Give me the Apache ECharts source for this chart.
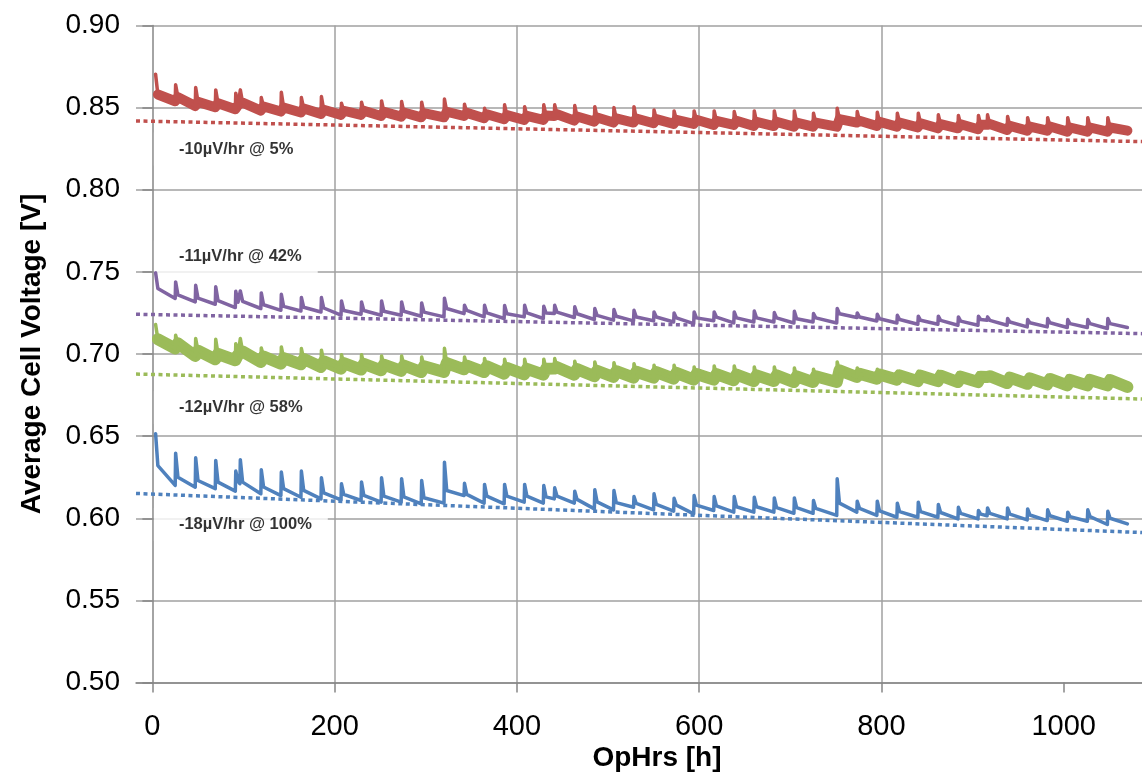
<!DOCTYPE html>
<html>
<head>
<meta charset="utf-8">
<title>Average Cell Voltage</title>
<script src="https://cdn.jsdelivr.net/npm/echarts@6/dist/echarts.min.js"></script>
<style>
  html, body { margin: 0; padding: 0; background: #fff; }
  #chart { width: 1142px; height: 775px; }
</style>
</head>
<body>
<div id="chart"></div>
<script>
// operating hours at which each voltage spike (recovery) starts
const spikeHrs = [3, 25, 47, 69, 91, 96, 119, 141, 163, 185, 207, 229, 251, 273, 295, 320, 342, 364, 386, 408,
  429, 441, 463, 485, 506, 528, 550, 572, 594, 616, 638, 660, 682, 704, 725, 751, 773, 795, 817, 840,
  862, 884, 906, 916, 938, 960, 982, 1004, 1026, 1048];
const endHr = 1070;

// 5% load (red): spike top, value just after spike, value just before next spike
const redPeak = [0.8703, 0.8639, 0.8622, 0.8608, 0.8588, 0.8608, 0.8561, 0.8594, 0.8561, 0.8567,
  0.8527, 0.8533, 0.8541, 0.8537, 0.8533, 0.8552, 0.8521, 0.8496, 0.8517, 0.8506,
  0.8517, 0.8517, 0.8513, 0.8506, 0.8500, 0.8506, 0.8486, 0.8480, 0.8480, 0.8480,
  0.8476, 0.8480, 0.8480, 0.8480, 0.8466, 0.8496, 0.8476, 0.8472, 0.8466, 0.8466,
  0.8456, 0.8452, 0.8452, 0.8456, 0.8446, 0.8439, 0.8439, 0.8439, 0.8439, 0.8439];
const redKnee = [0.8580, 0.8564, 0.8535, 0.8527, 0.8515, 0.8530, 0.8507, 0.8501, 0.8495, 0.8487,
  0.8481, 0.8481, 0.8474, 0.8470, 0.8466, 0.8475, 0.8468, 0.8460, 0.8454, 0.8450,
  0.8452, 0.8460, 0.8446, 0.8440, 0.8434, 0.8434, 0.8430, 0.8426, 0.8426, 0.8420,
  0.8420, 0.8413, 0.8413, 0.8409, 0.8409, 0.8430, 0.8420, 0.8413, 0.8409, 0.8405,
  0.8399, 0.8399, 0.8395, 0.8400, 0.8389, 0.8385, 0.8385, 0.8379, 0.8379, 0.8379];
const redLow = [0.8539, 0.8510, 0.8502, 0.8490, 0.8516, 0.8482, 0.8476, 0.8470, 0.8462, 0.8456,
  0.8456, 0.8449, 0.8445, 0.8441, 0.8441, 0.8449, 0.8435, 0.8429, 0.8425, 0.8425,
  0.8449, 0.8421, 0.8415, 0.8409, 0.8409, 0.8405, 0.8401, 0.8401, 0.8395, 0.8395,
  0.8388, 0.8388, 0.8384, 0.8384, 0.8384, 0.8409, 0.8388, 0.8384, 0.8380, 0.8374,
  0.8374, 0.8368, 0.8395, 0.8364, 0.8360, 0.8360, 0.8354, 0.8354, 0.8354, 0.8360];

// 42% load (purple)
const purplePeak = [0.7494, 0.7439, 0.7419, 0.7409, 0.7382, 0.7384, 0.7372, 0.7364, 0.7344, 0.7344,
  0.7323, 0.7317, 0.7323, 0.7317, 0.7311, 0.7340, 0.7297, 0.7297, 0.7295, 0.7297,
  0.7291, 0.7297, 0.7287, 0.7277, 0.7271, 0.7266, 0.7256, 0.7250, 0.7256, 0.7256,
  0.7256, 0.7262, 0.7252, 0.7260, 0.7246, 0.7277, 0.7250, 0.7242, 0.7236, 0.7230,
  0.7230, 0.7226, 0.7230, 0.7226, 0.7216, 0.7210, 0.7216, 0.7210, 0.7210, 0.7216];
const purpleKnee = [0.7399, 0.7360, 0.7340, 0.7325, 0.7315, 0.7320, 0.7300, 0.7290, 0.7285, 0.7280,
  0.7265, 0.7265, 0.7260, 0.7260, 0.7255, 0.7277, 0.7265, 0.7250, 0.7245, 0.7250,
  0.7250, 0.7255, 0.7245, 0.7235, 0.7230, 0.7225, 0.7225, 0.7220, 0.7220, 0.7225,
  0.7220, 0.7220, 0.7220, 0.7215, 0.7220, 0.7245, 0.7225, 0.7215, 0.7210, 0.7205,
  0.7205, 0.7200, 0.7210, 0.7205, 0.7195, 0.7190, 0.7190, 0.7185, 0.7185, 0.7185];
const purpleLow = [0.7338, 0.7317, 0.7303, 0.7283, 0.7307, 0.7277, 0.7266, 0.7262, 0.7256, 0.7236,
  0.7242, 0.7236, 0.7236, 0.7230, 0.7226, 0.7246, 0.7226, 0.7216, 0.7226, 0.7216,
  0.7246, 0.7222, 0.7210, 0.7206, 0.7202, 0.7202, 0.7195, 0.7185, 0.7202, 0.7189,
  0.7195, 0.7195, 0.7189, 0.7195, 0.7189, 0.7222, 0.7201, 0.7189, 0.7181, 0.7181,
  0.7175, 0.7175, 0.7206, 0.7175, 0.7165, 0.7165, 0.7161, 0.7161, 0.7155, 0.7161];

// 58% load (green)
const greenPeak = [0.7179, 0.7114, 0.7094, 0.7090, 0.7063, 0.7094, 0.7037, 0.7043, 0.7033, 0.7023,
  0.6996, 0.6996, 0.6988, 0.6988, 0.6982, 0.7035, 0.6982, 0.6972, 0.6968, 0.6968,
  0.6968, 0.6972, 0.6956, 0.6952, 0.6947, 0.6941, 0.6931, 0.6931, 0.6921, 0.6927,
  0.6927, 0.6921, 0.6921, 0.6915, 0.6907, 0.6952, 0.6915, 0.6907, 0.6895, 0.6895,
  0.6895, 0.6886, 0.6886, 0.6880, 0.6874, 0.6870, 0.6870, 0.6866, 0.6866, 0.6866];
const greenKnee = [0.7090, 0.7065, 0.7020, 0.7000, 0.6995, 0.7015, 0.6985, 0.6975, 0.6970, 0.6955,
  0.6945, 0.6940, 0.6935, 0.6930, 0.6925, 0.6945, 0.6930, 0.6925, 0.6915, 0.6910,
  0.6910, 0.6920, 0.6908, 0.6898, 0.6895, 0.6892, 0.6890, 0.6885, 0.6878, 0.6878,
  0.6875, 0.6870, 0.6870, 0.6864, 0.6864, 0.6900, 0.6880, 0.6875, 0.6870, 0.6868,
  0.6868, 0.6862, 0.6862, 0.6865, 0.6856, 0.6852, 0.6848, 0.6842, 0.6842, 0.6842];
const greenLow = [0.7033, 0.6988, 0.6968, 0.6962, 0.7002, 0.6951, 0.6941, 0.6937, 0.6921, 0.6911,
  0.6905, 0.6901, 0.6897, 0.6890, 0.6890, 0.6907, 0.6890, 0.6880, 0.6876, 0.6874,
  0.6911, 0.6874, 0.6864, 0.6860, 0.6856, 0.6856, 0.6850, 0.6844, 0.6844, 0.6840,
  0.6835, 0.6835, 0.6829, 0.6829, 0.6829, 0.6860, 0.6850, 0.6844, 0.6835, 0.6835,
  0.6829, 0.6829, 0.6860, 0.6823, 0.6819, 0.6815, 0.6809, 0.6809, 0.6809, 0.6799];

// 100% load (blue)
const bluePeak = [0.6515, 0.6396, 0.6368, 0.6352, 0.6287, 0.6356, 0.6295, 0.6281, 0.6287, 0.6246,
  0.6210, 0.6220, 0.6246, 0.6240, 0.6230, 0.6341, 0.6213, 0.6206, 0.6206, 0.6206,
  0.6199, 0.6185, 0.6165, 0.6173, 0.6169, 0.6132, 0.6149, 0.6122, 0.6138, 0.6132,
  0.6132, 0.6128, 0.6124, 0.6124, 0.6108, 0.6240, 0.6104, 0.6104, 0.6092, 0.6098,
  0.6084, 0.6067, 0.6047, 0.6063, 0.6063, 0.6057, 0.6051, 0.6037, 0.6051, 0.6043];
const blueKnee = [0.6320, 0.6250, 0.6230, 0.6220, 0.6225, 0.6220, 0.6190, 0.6180, 0.6170, 0.6155,
  0.6145, 0.6140, 0.6135, 0.6130, 0.6125, 0.6169, 0.6145, 0.6135, 0.6135, 0.6135,
  0.6130, 0.6135, 0.6115, 0.6100, 0.6095, 0.6090, 0.6085, 0.6080, 0.6080, 0.6075,
  0.6070, 0.6070, 0.6065, 0.6065, 0.6060, 0.6092, 0.6060, 0.6045, 0.6040, 0.6040,
  0.6035, 0.6030, 0.6025, 0.6030, 0.6025, 0.6020, 0.6015, 0.6010, 0.6010, 0.6000];
const blueLow = [0.6200, 0.6189, 0.6180, 0.6165, 0.6210, 0.6149, 0.6138, 0.6128, 0.6118, 0.6112,
  0.6108, 0.6098, 0.6098, 0.6088, 0.6092, 0.6138, 0.6092, 0.6088, 0.6098, 0.6092,
  0.6118, 0.6092, 0.6057, 0.6051, 0.6067, 0.6051, 0.6043, 0.6027, 0.6047, 0.6037,
  0.6037, 0.6037, 0.6030, 0.6030, 0.6017, 0.6037, 0.6017, 0.6006, 0.6006, 0.6006,
  0.5996, 0.5996, 0.6015, 0.5996, 0.5990, 0.5986, 0.5982, 0.5982, 0.5962, 0.5966];

// linear trend lines (start / end of the dotted line)
const trendHrs = [-18, 1086];
const redTrend = [0.8419, 0.8293];
const purpleTrend = [0.7242, 0.7124];
const greenTrend = [0.6878, 0.6726];
const blueTrend = [0.6151, 0.5913];

// degradation rate notes
const annoV = [0.8248, 0.7591, 0.6673, 0.5962];
const annoText = ['-10µV/hr @ 5%', '-11µV/hr @ 42%', '-12µV/hr @ 58%', '-18µV/hr @ 100%'];

const xTicks = [0, 200, 400, 600, 800, 1000];

const RED = '#C0504D';
const PURPLE = '#8064A2';
const GREEN = '#9BBB59';
const BLUE = '#4F81BD';
const FONT = '"Liberation Sans", Arial, sans-serif';

// build the sawtooth path; band layers skip the spike tops
function sawtooth(peak, knee, low, withSpikes) {
  const pts = [];
  spikeHrs.forEach((t, i) => {
    const next = i + 1 < spikeHrs.length ? spikeHrs[i + 1] : endHr;
    if (withSpikes) {
      if (i > 0) pts.push([t, low[i - 1]]);
      pts.push([t + 0.5, peak[i]]);
    }
    pts.push([t + 3, knee[i]]);
    pts.push([next, low[i]]);
  });
  return pts;
}

function volts(name, data, color, width) {
  return {
    name: name,
    type: 'line',
    data: data,
    symbol: 'none',
    z: 3,
    lineStyle: { color: color, width: width, join: 'round', cap: 'round' },
  };
}

function trend(name, vals, color) {
  return {
    name: name,
    type: 'line',
    data: trendHrs.map((h, i) => [h, vals[i]]),
    symbol: 'none',
    z: 2,
    lineStyle: { color: color, width: 3.5, type: [4, 3.5], cap: 'butt' },
  };
}

const chart = echarts.init(document.getElementById('chart'));
chart.setOption({
  animation: false,
  grid: {
    left: 136, right: 0, top: 25.5, bottom: 92.5,
    containLabel: false, outerBoundsMode: 'none',
  },
  xAxis: {
    type: 'value',
    min: -18,
    max: 1086,
    name: 'OpHrs [h]',
    nameLocation: 'middle',
    nameGap: 62,
    nameMoveOverlap: false,
    nameTextStyle: { fontFamily: FONT, fontSize: 28, fontWeight: 'bold', color: '#000', padding: [0, 0, 0, 36] },
    axisLine: { onZero: false, lineStyle: { color: '#868686', width: 1.5 } },
    axisTick: { length: 10, customValues: xTicks, lineStyle: { color: '#868686', width: 1.5 } },
    axisLabel: {
      customValues: xTicks, margin: 30, fontFamily: FONT, fontSize: 29, color: '#000',
      formatter: (v) => String(v),
    },
    splitLine: { show: true, showMinLine: false, showMaxLine: false, lineStyle: { color: '#a0a0a0', width: 1.5 } },
  },
  yAxis: {
    type: 'value',
    min: 0.5,
    max: 0.9,
    interval: 0.05,
    name: 'Average Cell Voltage [V]',
    nameLocation: 'middle',
    nameGap: 90,
    nameMoveOverlap: false,
    nameTextStyle: { fontFamily: FONT, fontSize: 28, fontWeight: 'bold', color: '#000' },
    axisLine: { show: true, onZero: true, lineStyle: { color: '#868686', width: 1.5 } },
    axisTick: { show: true, length: 10, lineStyle: { color: '#868686', width: 1.5 } },
    axisLabel: {
      margin: 16, fontFamily: FONT, fontSize: 28, color: '#000',
      formatter: (v) => v.toFixed(2),
    },
    splitLine: { show: true, lineStyle: { color: '#a0a0a0', width: 1.5 } },
  },
  series: [
    trend('trend 5%', redTrend, RED),
    trend('trend 42%', purpleTrend, PURPLE),
    trend('trend 58%', greenTrend, GREEN),
    trend('trend 100%', blueTrend, BLUE),
    volts('5% band', sawtooth(redPeak, redKnee, redLow, false), RED, 10),
    volts('5%', sawtooth(redPeak, redKnee, redLow, true), RED, 3.5),
    volts('42%', sawtooth(purplePeak, purpleKnee, purpleLow, true), PURPLE, 3.5),
    volts('58% band', sawtooth(greenPeak, greenKnee, greenLow, false), GREEN, 12),
    volts('58%', sawtooth(greenPeak, greenKnee, greenLow, true), GREEN, 3.5),
    volts('100%', sawtooth(bluePeak, blueKnee, blueLow, true), BLUE, 3.5),
    {
      name: 'notes',
      type: 'scatter',
      z: 1,
      symbolSize: 1,
      itemStyle: { color: 'rgba(0,0,0,0)' },
      data: annoV.map((v, i) => ({ value: [0, v], label: { formatter: annoText[i] } })),
      label: {
        show: true,
        position: 'right',
        distance: 1,
        padding: [8, 16, 8, 25],
        backgroundColor: '#fff',
        fontFamily: FONT,
        fontSize: 16.5,
        fontWeight: 'bold',
        color: '#000',
      },
    },
  ],
});
</script>
</body>
</html>
